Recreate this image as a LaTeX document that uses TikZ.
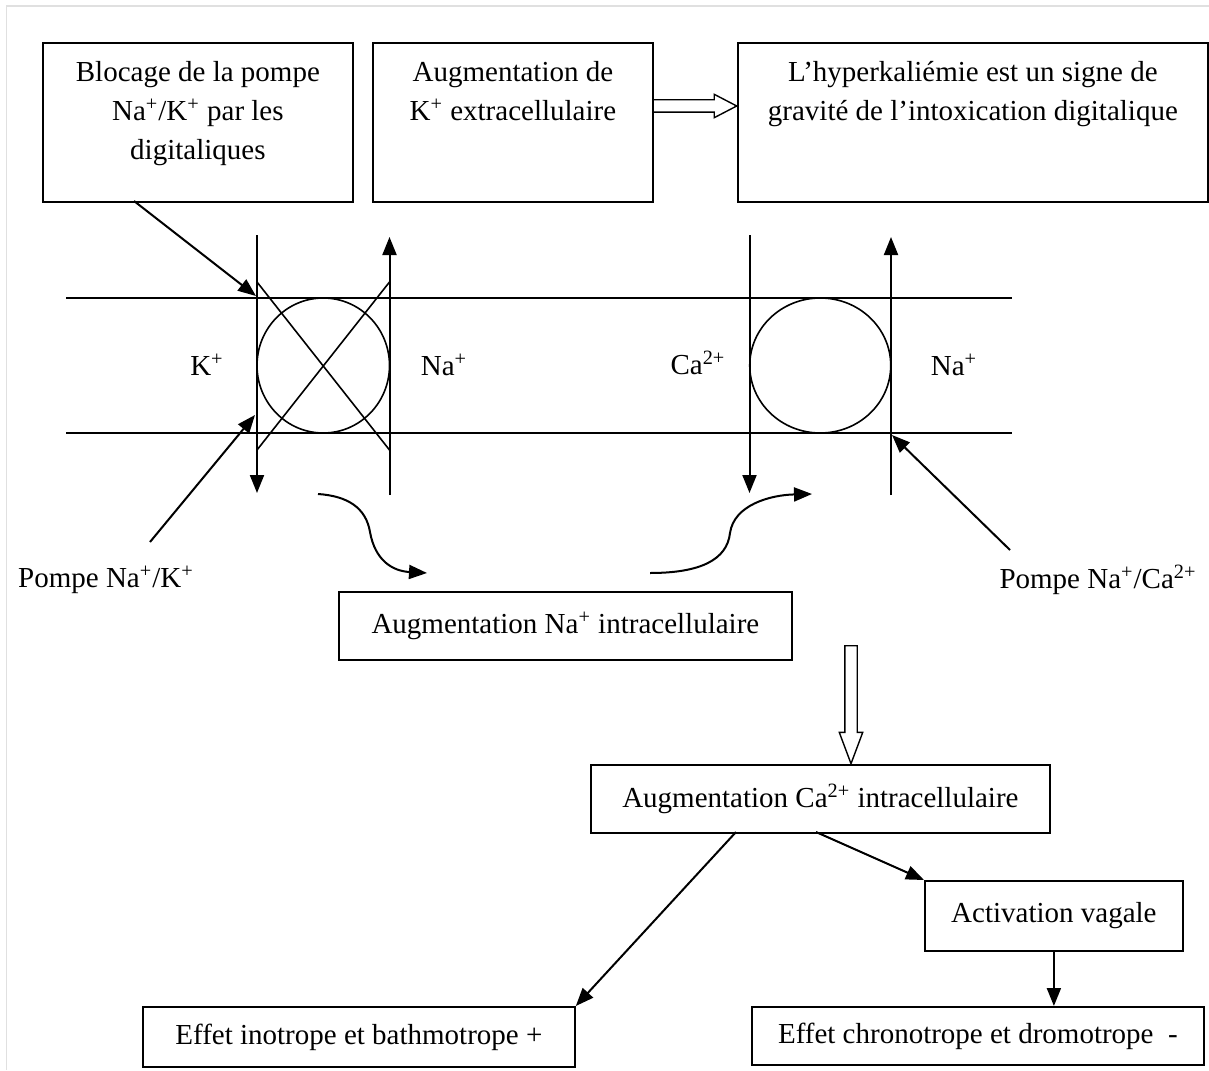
\documentclass[tikz,border=0pt]{standalone}
\usepackage{fontspec}
\setmainfont{Liberation Serif}
\usetikzlibrary{arrows.meta,positioning,shapes.arrows,shapes.geometric}

\newcommand{\toptext}[3]{\parbox[c][#2][t]{#1}{\centering\rule{0pt}{19.5pt}#3}}
\newcommand{\Kp}{K\textsuperscript{+}}
\newcommand{\Nap}{Na\textsuperscript{+}}
\newcommand{\Cap}{Ca\textsuperscript{2+}}

\begin{document}
\begin{tikzpicture}[x=0.5pt, y=-0.5pt,
    font=\fontsize{14.5}{19.5}\selectfont,
    box/.style={draw, line width=0.9pt, rectangle, inner sep=0pt, anchor=north west},
    flow/.style={line width=1pt, -{Triangle[length=9pt, width=7pt]}},
    membrane/.style={line width=0.8pt},
    fatarrow/.style={draw, line width=0.7pt, shape=single arrow, inner sep=2.75pt,
        single arrow head extend=2.75pt, anchor=tail}]
    % frame
    \useasboundingbox (0,0) rectangle (1209,1070);
    \draw[black!12, line width=0.8pt] (1209,6) -- (6.5,6) -- (6.5,1070);

    % Top boxes
    \node[box] (blocage) at (42,42) {\toptext{155pt}{79.5pt}{Blocage de la pompe\\\Nap/\Kp{} par les\\digitaliques}};
    \node[box] (kextra) at (372,42) {\toptext{140pt}{79.5pt}{Augmentation de\\\Kp{} extracellulaire}};
    \node[box] (hyperk) at (737,42) {\toptext{235pt}{79.5pt}{L’hyperkaliémie est un signe de\\gravité de l’intoxication digitalique}};
    \node[fatarrow, minimum height=42pt, single arrow tip angle=55] (kfat) at (652,106) {};

    % Membrane
    \draw[membrane] (66,298) -- (1012,298);
    \draw[membrane] (66,433) -- (1012,433);

    % Pompe Na/K (bloquee)
    \node[draw, membrane, ellipse, minimum width=66.25pt, minimum height=67.5pt, inner sep=0pt] (nakpump) at (323.25,365.5) {};
    \draw[membrane] (257,282) -- (389.5,450);
    \draw[membrane] (389.5,282) -- (257,450);
    \coordinate (ktop) at (257,235);
    \coordinate (kbot) at (257,493);
    \coordinate (natop) at (389.5,237);
    \coordinate (nabot) at (389.5,495);
    \draw[flow] (ktop) -- (kbot);
    \draw[flow] (nabot) -- (natop);
    \node (klabel) at (207,365) {\Kp};
    \node (nalabel) at (444,365) {\Nap};

    % Pompe Na/Ca
    \node[draw, membrane, ellipse, minimum width=70.5pt, minimum height=67.5pt, inner sep=0pt] (nacapump) at (820.25,365.5) {};
    \coordinate (catop) at (749.5,235);
    \coordinate (cabot) at (749.5,493);
    \coordinate (na2top) at (891,237);
    \coordinate (na2bot) at (891,495);
    \draw[flow] (catop) -- (cabot);
    \draw[flow] (na2bot) -- (na2top);
    \node (calabel) at (698,363) {\Cap};
    \node (na2label) at (954,365) {\Nap};

    % Pump labels
    \node (pompenak) at (106,580) {Pompe \Nap/\Kp};
    \node (pompenaca) at (1098,580) {Pompe \Nap/\Cap};
    \coordinate (blocfoot) at (134,201);
    \coordinate (nakin) at (256,296);
    \coordinate (nakout) at (150,542);
    \coordinate (nakfoot) at (255,415);
    \coordinate (nacaout) at (1010,550);
    \coordinate (nacafoot) at (892,435);
    \draw[flow] (blocfoot) -- (nakin);
    \draw[flow] (nakout) -- (nakfoot);
    \draw[flow] (nacaout) -- (nacafoot);

    % Intracellular boxes
    \node[box, minimum width=226.5pt, minimum height=34pt] (naintra) at (338,591) {Augmentation \Nap{} intracellulaire};
    \node[fatarrow, minimum height=59pt, single arrow tip angle=41, rotate=-90] (cafat) at (851,645) {};
    \node[box, minimum width=229.5pt, minimum height=34pt] (caintra) at (590,764) {Augmentation \Cap{} intracellulaire};
    \node[box, minimum width=129pt, minimum height=35pt] (vagale) at (924,880) {Activation vagale};
    \node[box, minimum width=216pt, minimum height=30pt] (inotrope) at (142,1006) {Effet inotrope et bathmotrope +};
    \node[box, minimum width=226pt, minimum height=29pt] (chrono) at (751,1006) {Effet chronotrope et dromotrope\enspace-};

    % Curved arrows
    \coordinate (s1) at (318,494);
    \coordinate (e1) at (427,573);
    \draw[flow] (s1) .. controls (348,496) and (366,508) .. (370,532)
        .. controls (375,560) and (392,571) .. (e1);
    \coordinate (s2) at (650,573);
    \coordinate (e2) at (812,494);
    \draw[flow] (s2) .. controls (700,573) and (727,560) .. (730,533)
        .. controls (734,505) and (770,495) .. (e2);

    % Connections
    \coordinate (caleft) at (736,832);
    \coordinate (caright) at (816,832);
    \draw[flow] (caleft) -- (inotrope.north east);
    \draw[flow] (caright) -- (vagale.north west);
    \draw[flow] (vagale.south) -- (vagale.south |- chrono.north);
\end{tikzpicture}
\end{document}
